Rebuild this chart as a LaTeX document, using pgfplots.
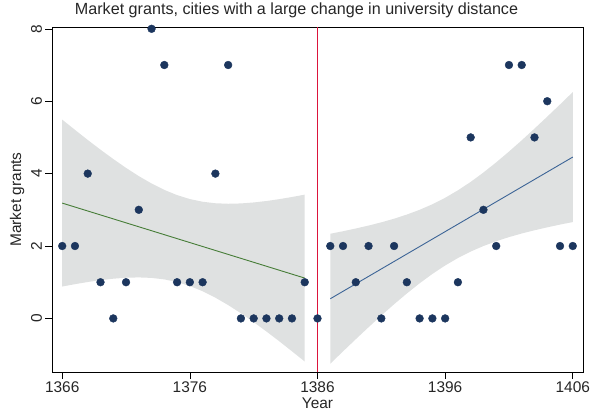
\documentclass[border=0pt]{standalone}
\usepackage{pgfplots}
\pgfplotsset{compat=1.18}
\usepackage{fontspec}
\setmainfont{Liberation Sans}
\definecolor{stnavy}{RGB}{28,54,94}
\definecolor{stgreen}{RGB}{70,125,55}
\definecolor{stblue}{RGB}{60,100,150}
\definecolor{stred}{RGB}{220,20,60}
\definecolor{band}{RGB}{223,225,225}
\begin{document}
\begin{tikzpicture}
\begin{axis}[
  scale only axis, width=531bp, height=345bp,
  xmin=1365.2, xmax=1406.8, ymin=-1.48, ymax=8.05,
  xtick={1366,1376,1386,1396,1406}, ytick={0,2,4,6,8},
  xtick pos=bottom, ytick pos=left,
  tick align=outside, major tick length=6.5bp,
  axis line style={black, line width=0.6bp},
  every tick/.style={black, line width=0.6bp},
  /pgf/number format/assume math mode=true,
  /pgf/number format/1000 sep={},
  ticklabel style={font=\fontsize{15.5}{15.5}\selectfont, text=black!85},
  yticklabel style={rotate=90, anchor=south},
  title={Market grants, cities with a large change in university distance},
  title style={font=\fontsize{16.2}{16.2}\selectfont, text=black!85, at={(0.4605,1)}, anchor=base, yshift=6.3bp, inner sep=0pt},
  xlabel={Year},
  xlabel style={font=\fontsize{15.5}{15.5}\selectfont, text=black!85, at={(0.5,0)}, anchor=base, yshift=-36.8bp, inner sep=0pt},
  ylabel={Market grants},
  ylabel style={font=\fontsize{15.5}{15.5}\selectfont, text=black!85},
  clip=false,
]
% confidence bands
\addplot[fill=band, draw=none] coordinates {
(1366,5.491)(1367,5.208)(1368,4.930)(1369,4.661)(1370,4.403)(1371,4.158)(1372,3.931)(1373,3.727)(1374,3.550)(1375,3.406)
(1376,3.297)(1377,3.223)(1378,3.181)(1379,3.167)(1380,3.176)(1381,3.203)(1382,3.243)(1383,3.294)(1384,3.354)(1385,3.419)
(1385,-1.191)(1384,-0.908)(1383,-0.630)(1382,-0.361)(1381,-0.103)(1380,0.142)(1379,0.369)(1378,0.573)(1377,0.751)(1376,0.895)
(1375,1.004)(1374,1.078)(1373,1.119)(1372,1.133)(1371,1.124)(1370,1.097)(1369,1.057)(1368,1.006)(1367,0.946)(1366,0.881)
} -- cycle;
\addplot[fill=band, draw=none] coordinates {
(1387,2.338)(1388,2.408)(1389,2.484)(1390,2.565)(1391,2.654)(1392,2.754)(1393,2.869)(1394,3.000)(1395,3.153)(1396,3.332)
(1397,3.538)(1398,3.771)(1399,4.030)(1400,4.311)(1401,4.608)(1402,4.920)(1403,5.243)(1404,5.574)(1405,5.910)(1406,6.252)
(1406,2.662)(1405,2.592)(1404,2.516)(1403,2.435)(1402,2.346)(1401,2.246)(1400,2.131)(1399,2.000)(1398,1.847)(1397,1.668)
(1396,1.462)(1395,1.229)(1394,0.970)(1393,0.689)(1392,0.392)(1391,0.080)(1390,-0.243)(1389,-0.574)(1388,-0.910)(1387,-1.252)
} -- cycle;
% fitted lines
\addplot[draw=stgreen, line width=0.9bp] coordinates {(1366,3.1857)(1385,1.1143)};
\addplot[draw=stblue, line width=0.9bp] coordinates {(1387,0.5429)(1406,4.4571)};
% cutoff
\addplot[draw=stred, line width=1.4bp, mark=none] coordinates {(1386,-1.48)(1386,8.05)};
% data
\addplot[only marks, mark=*, mark size=3.9bp, mark options={fill=stnavy, draw=stnavy}] coordinates {
(1366,2)(1367,2)(1368,4)(1369,1)(1370,0)(1371,1)(1372,3)(1373,8)(1374,7)(1375,1)
(1376,1)(1377,1)(1378,4)(1379,7)(1380,0)(1381,0)(1382,0)(1383,0)(1384,0)(1385,1)
(1386,0)(1387,2)(1388,2)(1389,1)(1390,2)(1391,0)(1392,2)(1393,1)(1394,0)(1395,0)
(1396,0)(1397,1)(1398,5)(1399,3)(1400,2)(1401,7)(1402,7)(1403,5)(1404,6)(1405,2)(1406,2)
};
\end{axis}
\pgfresetboundingbox
\path (current axis.south west) ++(-52bp,-39bp) rectangle ++(593bp,411bp);
\end{tikzpicture}
\end{document}
